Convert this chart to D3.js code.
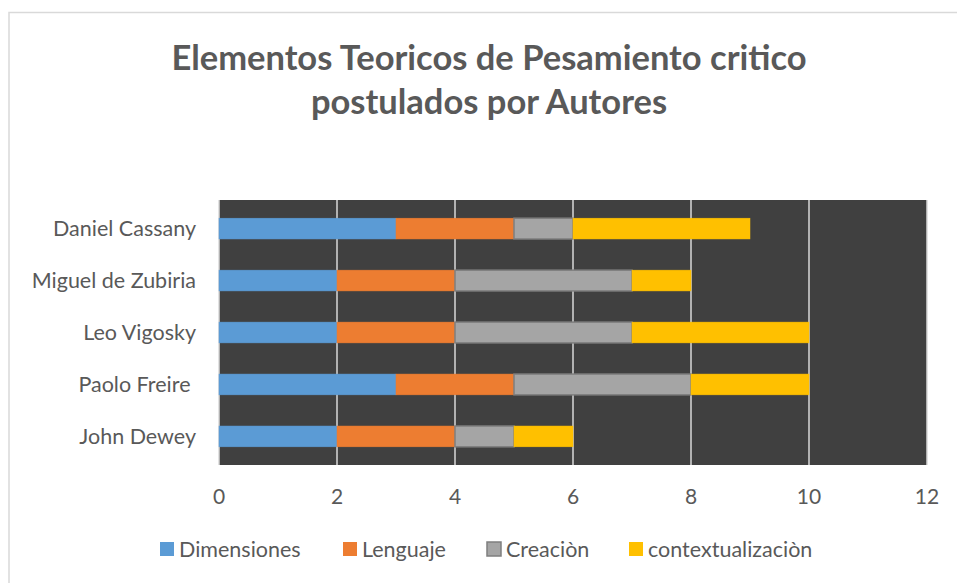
<!DOCTYPE html>
<html>
<head>
<meta charset="utf-8">
<script src="https://cdn.jsdelivr.net/npm/d3@7"></script>
<style>
  body { margin: 0; background: #fff; }
  svg text { font-family: Lato, "Open Sans", sans-serif; fill: #595959; }
</style>
</head>
<body>
<svg id="chart" width="957" height="583"></svg>
<script>
const svg = d3.select("#chart");

// data
const autores = ["Daniel Cassany", "Miguel de Zubiria", "Leo Vigosky", "Paolo Freire ", "John Dewey"];
const series = ["Dimensiones", "Lenguaje", "Creaciòn", "contextualizaciòn"];
const dimensiones = [3, 2, 2, 3, 2];
const lenguaje = [2, 2, 2, 2, 2];
const creacion = [1, 3, 3, 3, 1];
const contextualizacion = [3, 1, 3, 2, 1];
const xTicks = [0, 2, 4, 6, 8, 10, 12];

const colors = ["#5b9bd5", "#ed7d31", "#a5a5a5", "#ffc000"];
const strokes = ["#5b9bd5", "#ed7d31", "#7f7f7f", "#ffc000"];

const rows = autores.map((a, i) => ({
    autor: a,
    Dimensiones: dimensiones[i],
    Lenguaje: lenguaje[i],
    "Creaciòn": creacion[i],
    "contextualizaciòn": contextualizacion[i]
}));

const stacked = d3.stack().keys(series)(rows);

// chart border
svg.append("rect")
    .attr("x", 9).attr("y", 12.5)
    .attr("width", 960).attr("height", 600)
    .attr("fill", "none")
    .attr("stroke", "#d9d9d9")
    .attr("stroke-width", 1.5);

// title
const title = svg.append("text")
    .attr("text-anchor", "middle")
    .style("font-weight", "bold")
    .style("font-size", "34.5px");
title.append("tspan").attr("x", 489).attr("y", 70).text("Elementos Teoricos de Pesamiento critico");
title.append("tspan").attr("x", 489).attr("y", 114).text("postulados por Autores");

const plot = { left: 219, right: 927, top: 200, bottom: 465 };

const x = d3.scaleLinear().domain([0, 12]).range([plot.left, plot.right]);
const y = d3.scaleBand().domain(autores).range([plot.top, plot.bottom]).paddingInner(0.6).paddingOuter(0.35);

// plot background
svg.append("rect")
    .attr("x", plot.left).attr("y", plot.top)
    .attr("width", plot.right - plot.left).attr("height", plot.bottom - plot.top)
    .attr("fill", "#404040");

// gridlines
svg.append("g")
    .selectAll("line")
    .data(xTicks.slice(1))
    .join("line")
    .attr("x1", d => x(d)).attr("x2", d => x(d))
    .attr("y1", plot.top).attr("y2", plot.bottom)
    .attr("stroke", "#d9d9d9")
    .attr("stroke-width", 1.5);

// left axis line
svg.append("line")
    .attr("x1", plot.left).attr("x2", plot.left)
    .attr("y1", plot.top).attr("y2", plot.bottom)
    .attr("stroke", "#d9d9d9")
    .attr("stroke-width", 1.5);

// bars
svg.append("g")
    .selectAll("g")
    .data(stacked)
    .join("g")
    .attr("fill", (d, i) => colors[i])
    .attr("stroke", (d, i) => strokes[i])
    .attr("stroke-width", (d, i) => i == 2 ? 1.5 : 0.5)
    .selectAll("rect")
    .data(d => d)
    .join("rect")
    .attr("x", d => x(d[0]))
    .attr("y", d => y(d.data.autor))
    .attr("width", d => x(d[1]) - x(d[0]))
    .attr("height", y.bandwidth());

// x tick labels
svg.append("g")
    .selectAll("text")
    .data(xTicks)
    .join("text")
    .attr("x", d => x(d))
    .attr("y", 504)
    .attr("text-anchor", "middle")
    .style("font-size", "21px")
    .text(d => d);

// category labels
svg.append("g")
    .selectAll("text")
    .data(autores)
    .join("text")
    .attr("x", 196)
    .attr("y", d => y(d) + y.bandwidth() / 2)
    .attr("dy", "0.35em")
    .attr("text-anchor", "end")
    .attr("xml:space", "preserve")
    .style("white-space", "pre")
    .style("font-size", "21.5px")
    .text(d => d);

// legend
const legendX = [160, 343, 487, 629];
const legend = svg.append("g")
    .selectAll("g")
    .data(series)
    .join("g")
    .attr("transform", (d, i) => `translate(${legendX[i]},549)`);

legend.append("rect")
    .attr("x", 0).attr("y", -7)
    .attr("width", 14).attr("height", 14)
    .attr("fill", (d, i) => colors[i])
    .attr("stroke", (d, i) => i == 2 ? "#7f7f7f" : "none")
    .attr("stroke-width", 1.5);

legend.append("text")
    .attr("x", 19)
    .attr("dy", "0.35em")
    .style("font-size", "21.5px")
    .text(d => d);
</script>
</body>
</html>
